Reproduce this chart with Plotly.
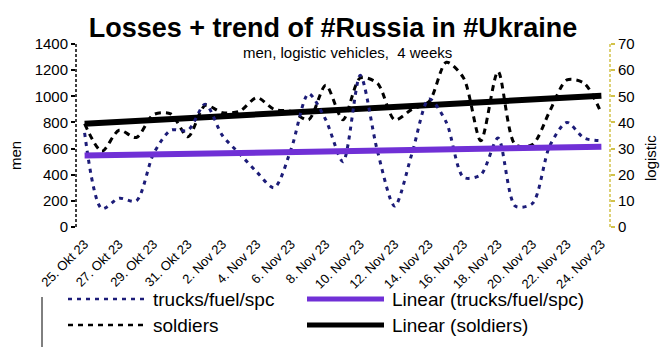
import numpy as np
import plotly.graph_objects as go
from plotly.subplots import make_subplots

# Daily dates, labels shown on every second day
days = [
    "25. Okt 23", "26. Okt 23", "27. Okt 23", "28. Okt 23", "29. Okt 23",
    "30. Okt 23", "31. Okt 23", "1. Nov 23", "2. Nov 23", "3. Nov 23",
    "4. Nov 23", "5. Nov 23", "6. Nov 23", "7. Nov 23", "8. Nov 23",
    "9. Nov 23", "10. Nov 23", "11. Nov 23", "12. Nov 23", "13. Nov 23",
    "14. Nov 23", "15. Nov 23", "16. Nov 23", "17. Nov 23", "18. Nov 23",
    "19. Nov 23", "20. Nov 23", "21. Nov 23", "22. Nov 23", "23. Nov 23",
    "24. Nov 23",
]
tick_days = days[::2]

# Daily losses: logistic vehicles (right axis) and soldiers (left axis)
trucks = [36, 7, 11, 10, 28, 37, 37, 47, 35, 28, 21, 15, 30, 51, 41, 25,
          58, 29, 8, 28, 49, 40, 19, 20, 34, 8, 9, 31, 40, 34, 33]
soldiers = [790, 580, 740, 685, 860, 865, 690, 930, 875, 885, 990, 900, 885,
            820, 1085, 820, 1140, 1100, 820, 900, 960, 1260, 1140, 660, 1190,
            630, 630, 885, 1125, 1100, 870]

# Least-squares linear trends over the day index
idx = np.arange(len(days))
t_slope, t_icpt = np.polyfit(idx, trucks, 1)
s_slope, s_icpt = np.polyfit(idx, soldiers, 1)
trucks_trend = t_slope * idx + t_icpt
soldiers_trend = s_slope * idx + s_icpt

NAVY = "#1c1c78"
PURPLE = "#7030d6"
OLIVE = "#d2c24a"
FONT = "Liberation Sans"

fig = make_subplots(specs=[[{"secondary_y": True}]])

fig.add_trace(go.Scatter(
    x=days, y=soldiers, mode="lines", name="soldiers", showlegend=False,
    line=dict(color="black", width=3, dash="6px,5px", shape="spline", smoothing=0.8),
), secondary_y=False)
fig.add_trace(go.Scatter(
    x=days, y=soldiers_trend, mode="lines", name="Linear (soldiers)", showlegend=False,
    line=dict(color="black", width=6),
), secondary_y=False)
fig.add_trace(go.Scatter(
    x=days, y=trucks, mode="lines", name="trucks/fuel/spc", showlegend=False,
    line=dict(color=NAVY, width=3, dash="4px,5px", shape="spline", smoothing=0.8),
), secondary_y=True)
fig.add_trace(go.Scatter(
    x=days, y=trucks_trend, mode="lines", name="Linear (trucks/fuel/spc)", showlegend=False,
    line=dict(color=PURPLE, width=6),
), secondary_y=True)

L, R, T, B = 76, 55, 44, 120
W, H = 665, 347
pw, ph = W - L - R, H - T - B


def px(x):
    return (x - L) / pw


def py(y):
    return (H - B - y) / ph


shapes = [
    # dashed vertical axis lines
    dict(type="line", xref="paper", yref="paper", x0=0, x1=0, y0=0, y1=1,
         line=dict(color="black", width=1.5, dash="3px,2px")),
    dict(type="line", xref="paper", yref="paper", x0=1, x1=1, y0=0, y1=1,
         line=dict(color=OLIVE, width=1.5, dash="3px,2px")),
    # small separator below the first date label
    dict(type="line", xref="paper", yref="paper", x0=px(42), x1=px(42),
         y0=py(297), y1=py(347), line=dict(color="black", width=1)),
]

# Legend: two columns, two rows
legend_items = [
    (68, 299, "trucks/fuel/spc", dict(color=NAVY, width=2.5, dash="4px,5px")),
    (307, 299, "Linear (trucks/fuel/spc)", dict(color=PURPLE, width=5)),
    (68, 325, "soldiers", dict(color="black", width=2.5, dash="5px,5px")),
    (307, 325, "Linear (soldiers)", dict(color="black", width=5)),
]
annotations = []
for x0, y0, label, ln in legend_items:
    shapes.append(dict(type="line", xref="paper", yref="paper",
                       x0=px(x0), x1=px(x0 + 77), y0=py(y0), y1=py(y0), line=ln))
    annotations.append(dict(xref="paper", yref="paper", x=px(x0 + 83), y=py(y0),
                            text=label, showarrow=False, xanchor="left", yanchor="middle",
                            font=dict(family=FONT, size=19, color="black")))

annotations += [
    dict(xref="paper", yref="paper", x=px(347), y=py(52),
         text="men, logistic vehicles,  4 weeks", showarrow=False,
         xanchor="center", yanchor="middle",
         font=dict(family=FONT, size=15, color="black")),
    # axis titles
    dict(xref="paper", yref="paper", x=px(15), y=py(156), text="men",
         textangle=-90, showarrow=False, xanchor="center", yanchor="middle",
         font=dict(family=FONT, size=15, color="black")),
    dict(xref="paper", yref="paper", x=px(650), y=py(158), text="logistic",
         textangle=-90, showarrow=False, xanchor="center", yanchor="middle",
         font=dict(family=FONT, size=15, color="black")),
]

fig.update_layout(
    width=W, height=H,
    margin=dict(l=L, r=R, t=T, b=B, pad=0, autoexpand=False),
    paper_bgcolor="white", plot_bgcolor="white",
    font=dict(family=FONT, color="black"),
    title=dict(text="<b>Losses + trend of #Russia in #Ukraine</b>",
               x=333 / W, y=1 - 28 / H, xref="container", yref="container",
               xanchor="center", yanchor="middle",
               font=dict(family=FONT, size=27, color="black")),
    shapes=shapes,
    annotations=annotations,
    showlegend=False,
)

fig.update_xaxes(
    domain=[0, 1],
    type="category", range=[-0.5, len(days) - 0.5],
    tickmode="array", tickvals=tick_days, ticktext=tick_days,
    tickangle=-45, tickfont=dict(family=FONT, size=13, color="black"),
    showline=False, showgrid=False, zeroline=False, ticks="",
    ticklabelstandoff=6, automargin=False,
)
fig.update_yaxes(
    range=[0, 1400], dtick=200, showgrid=False, zeroline=False, showline=False,
    ticks="outside", ticklen=4, tickwidth=1.5, tickcolor="black",
    tickfont=dict(family=FONT, size=15, color="black"), automargin=False,
    secondary_y=False,
)
fig.update_yaxes(
    range=[0, 70], dtick=10, showgrid=False, zeroline=False, showline=False,
    ticks="outside", ticklen=4, tickwidth=1.5, tickcolor=OLIVE,
    tickfont=dict(family=FONT, size=15, color="black"), automargin=False,
    secondary_y=True,
)

fig.write_html("out.html")
